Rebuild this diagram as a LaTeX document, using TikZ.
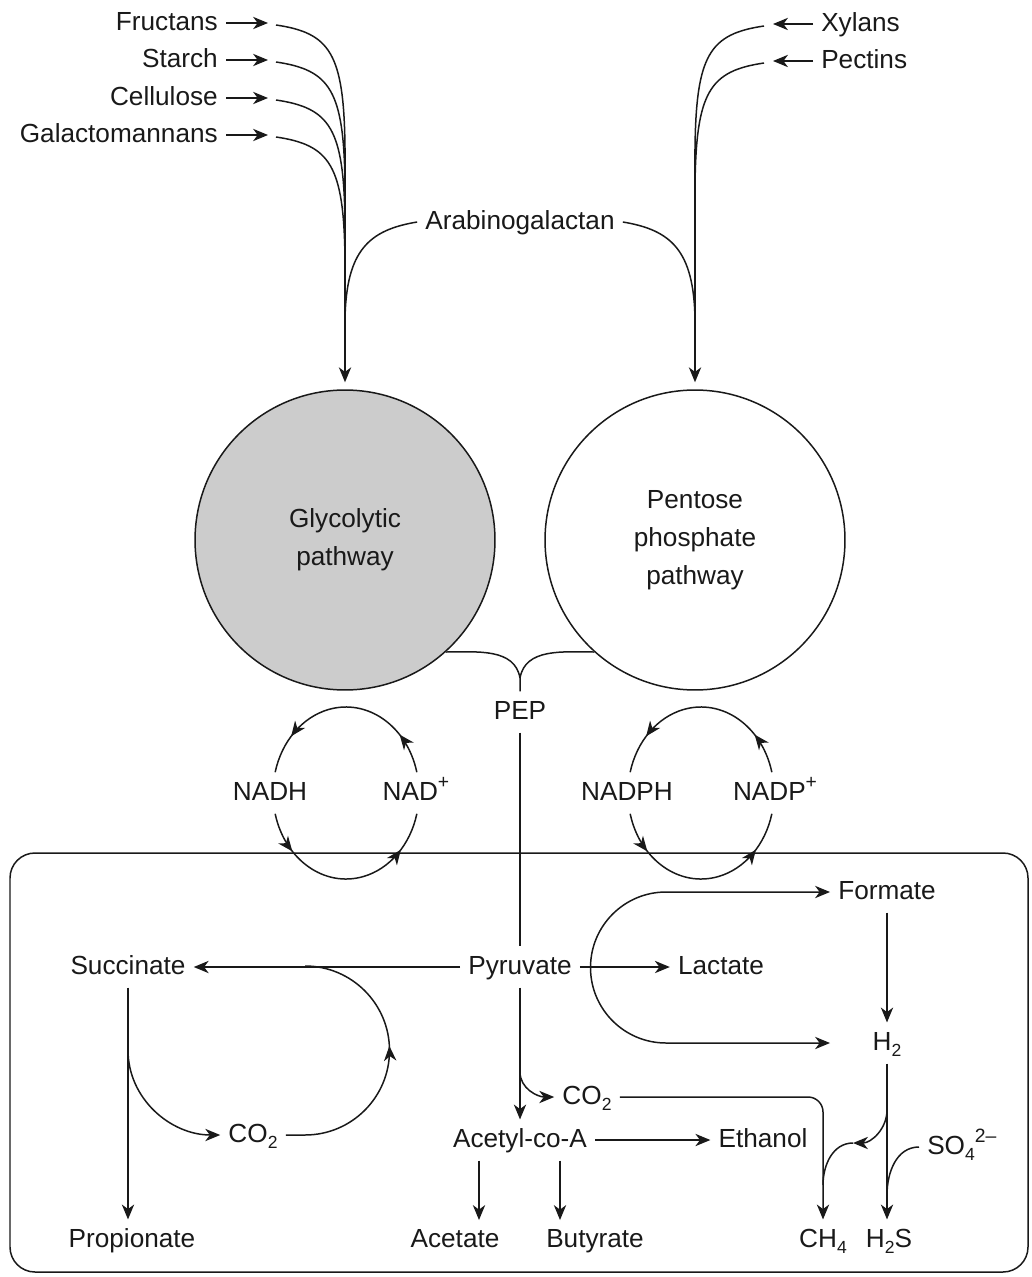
\documentclass[tikz,border=0pt]{standalone}
\usepackage{fontspec}
\setmainfont{Liberation Sans}
\usetikzlibrary{arrows.meta,calc,decorations.markings}
\newcommand{\lowidx}[1]{\raisebox{-0.5ex}{\fontsize{10}{10}\selectfont #1}}
\newcommand{\highidx}[1]{\raisebox{0.85ex}{\fontsize{11}{11}\selectfont #1}}
\tikzset{
    >={Stealth[length=8.5pt,width=7pt,inset=2.6pt]},
    every node/.style={font=\fontsize{14.9}{21.5}\selectfont, text=black!90},
    term/.style={inner sep=4.5pt, text height=11pt, text depth=3pt},
    flow/.style={draw=black!90, line width=0.85pt},
    arr/.style={flow, ->},
    pathway/.style={circle, draw=black!90, line width=0.85pt, minimum size=6cm, align=center},
    cycle arc/.style={
        flow,
        postaction=decorate,
        decoration={markings,
            mark=at position 0.2 with {\arrow{>}},
            mark=at position 0.81 with {\arrow{>}}
        }
    },
    mid arrow/.style={
        flow,
        postaction=decorate,
        decoration={markings, mark=at position #1 with {\arrow{>}}}
    }
}

\begin{document}
\begin{tikzpicture}[x=0.02cm, y=0.02cm]
    \useasboundingbox (0,0) rectangle (1031,-1277);

    % polysaccharides into glycolysis
    \foreach \name/\txt/\y in {fru/Fructans/23, sta/Starch/60, cel/Cellulose/98, gal/Galactomannans/135} {
        \node[term, anchor=east] (\name) at (226,-\y) {\txt};
        \draw[arr] (\name.east) -- ++(42,0);
        \draw[flow] ($(\name.east)+(50,-2)$) .. controls +(54,-8) and +(-1,95) .. (345,-\y-125);
    }
    % polysaccharides into pentose phosphate
    \foreach \name/\txt/\y in {xyl/Xylans/24, pec/Pectins/61} {
        \node[term, anchor=west] (\name) at (813,-\y) {\txt};
        \draw[arr] (\name.west) -- ++(-40,0);
        \draw[flow] ($(\name.west)+(-49,-2)$) .. controls +(-54,-8) and +(1,95) .. (695,-\y-125);
    }
    \node[term] (arab) at (520,-222) {Arabinogalactan};
    \draw[flow] (arab.west) .. controls +(-48,-8) and +(1,70) .. (345,-320);
    \draw[flow] (arab.east) .. controls +(48,-8) and +(-1,70) .. (695,-320);

    % pathways
    \node[pathway, fill=black!20] (glyc) at (345,-540) {Glycolytic\\pathway};
    \node[pathway] (pent) at (695,-540) {Pentose\\phosphate\\pathway};
    \coordinate (glycfeed) at (345,-148);
    \coordinate (pentfeed) at (695,-149);
    \draw[arr, shorten >=0.14cm] (glycfeed) -- (glyc.north);
    \draw[arr, shorten >=0.14cm] (pentfeed) -- (pent.north);

    % PEP
    \node[term] (pep) at (520,-712) {PEP};
    \coordinate (pepjoin) at (520,-678);
    \draw[flow] (glyc.-48) to[out=0,in=100] (pepjoin);
    \draw[flow] (pent.-132) to[out=180,in=80] (pepjoin) -- (pep.north);

    % redox cycles
    \coordinate (nadc) at (346,-793);
    \node[term] (nadh) at (270,-793) {NADH};
    \node[term] (nadplus) at (416,-793) {NAD\highidx{+}};
    \draw[cycle arc] ([shift={(14:73 and 86)}]nadc) arc[start angle=14, end angle=166, x radius=73, y radius=86];
    \draw[cycle arc] ([shift={(194:73 and 86)}]nadc) arc[start angle=194, end angle=346, x radius=73, y radius=86];
    \coordinate (nadpc) at (701,-793);
    \node[term] (nadph) at (627,-793) {NADPH};
    \node[term] (nadpplus) at (775,-793) {NADP\highidx{+}};
    \draw[cycle arc] ([shift={(14:73 and 86)}]nadpc) arc[start angle=14, end angle=166, x radius=73, y radius=86];
    \draw[cycle arc] ([shift={(194:73 and 86)}]nadpc) arc[start angle=194, end angle=346, x radius=73, y radius=86];

    % fermentation
    \draw[flow, rounded corners=0.5cm] (10,-853) rectangle (1028,-1272);
    \node[term] (pyr) at (520,-967) {Pyruvate};
    \node[term] (succ) at (128,-967) {Succinate};
    \node[term] (lact) at (721,-967) {Lactate};
    \node[term] (form) at (887,-892) {Formate};
    \node[term] (htwo) at (887,-1043) {H\lowidx{2}};
    \node[term] (co2r) at (587,-1097) {CO\lowidx{2}};
    \node[term] (acoa) at (520,-1140) {Acetyl-co-A};
    \node[term] (eth) at (763,-1140) {Ethanol};
    \node[term, anchor=west] (so4) at (919,-1147) {SO\lowidx{4}\highidx{2–}};
    \node[term] (ch4) at (823,-1240) {CH\lowidx{4}};
    \node[term] (h2s) at (889,-1240) {H\lowidx{2}S};
    \node[term] (prop) at (132,-1240) {Propionate};
    \node[term] (acet) at (455,-1240) {Acetate};
    \node[term] (buty) at (595,-1240) {Butyrate};
    \node[term] (co2l) at (253,-1135) {CO\lowidx{2}};

    \draw[flow] (pep) -- (pyr);
    \draw[arr] (pyr) -- (succ);
    \draw[arr] (pyr) -- (lact);
    \draw[arr] (pyr) -- (acoa);
    \draw[arr] (acoa) -- (eth);
    \draw[arr] (succ) -- (succ |- prop.north);
    \coordinate (succbr) at (128,-1050);
    \draw[arr] (succbr) to[out=-90,in=180] (co2l.west);
    \coordinate (loopfoot) at (305,-1135);
    \draw[mid arrow=0.55] (co2l.east) -- (loopfoot) arc[start angle=-90, end angle=90, radius=84.5];

    \coordinate (splittop) at (666,-892);
    \draw[flow, <->] (form.west) -- (splittop) arc[start angle=90, end angle=270, radius=75.5] -- (form.west |- htwo);
    \draw[arr] (form) -- (htwo);
    \draw[arr] (htwo) -- (htwo |- h2s.north);
    \coordinate (h2br) at (887,-1110);
    \coordinate (h2tip) at (853,-1143);
    \coordinate (ch4merge) at (823,-1185);
    \draw[arr] (h2br) to[out=-90,in=0] (h2tip);
    \draw[flow] (h2tip) to[out=180,in=90] (ch4merge);
    \draw[arr, rounded corners=0.3cm] (co2r.east) -| (ch4.north);
    \coordinate (h2smerge) at (887,-1195);
    \draw[flow] (so4.west) to[out=180,in=90] (h2smerge);

    \coordinate (pyrbr) at (520,-1072);
    \draw[arr] (pyrbr) to[out=-90,in=180] (co2r.west);
    \coordinate (acetin) at (479,-1220);
    \coordinate (butyin) at (560,-1220);
    \draw[arr] (acetin |- acoa.south) -- (acetin);
    \draw[arr] (butyin |- acoa.south) -- (butyin);
\end{tikzpicture}
\end{document}
